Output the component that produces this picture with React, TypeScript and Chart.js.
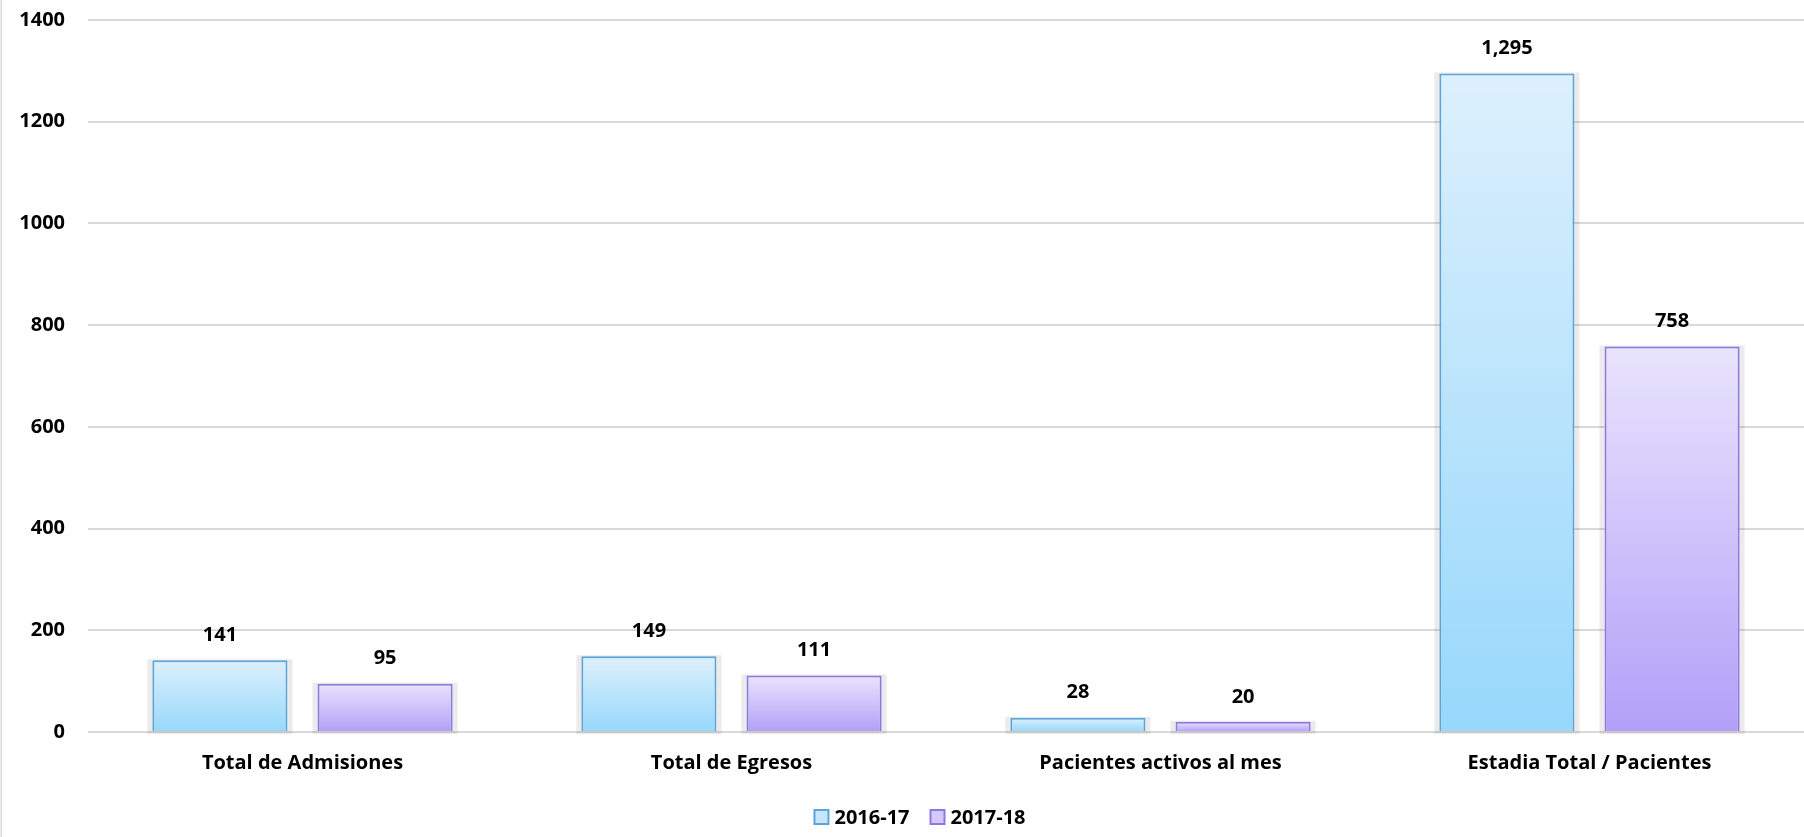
import React, { useEffect, useRef } from "react";
import { Chart, registerables } from "chart.js";

Chart.register(...registerables);

const categories = [
  "Total de Admisiones",
  "Total de Egresos",
  "Pacientes activos al mes",
  "Estadia Total / Pacientes",
];
const seriesNames = ["2016-17", "2017-18"];
const values2016 = [141, 149, 28, 1295];
const values2017 = [95, 111, 20, 758];
const yTicks = [0, 200, 400, 600, 800, 1000, 1200, 1400];

const FONT = "'Open Sans', Lato, sans-serif";
const FS = 20;

const palettes = [
  { top: "#ddf0fd", bottom: "#97d8fb", border: "#5aa6dc", legend: "#c6e7fb" },
  { top: "#e9e4fd", bottom: "#b1a0f8", border: "#8e79e2", legend: "#d3c9fb" },
];

function gradientFor(idx: number) {
  return (ctx: any) => {
    const chart = ctx.chart;
    const p = palettes[idx];
    if (!chart.chartArea || ctx.type !== "data") return p.legend;
    const y = chart.scales.y;
    const top = y.getPixelForValue(ctx.raw as number);
    const bottom = y.getPixelForValue(0);
    const g = chart.ctx.createLinearGradient(0, top, 0, Math.max(bottom, top + 1));
    g.addColorStop(0, p.top);
    g.addColorStop(1, p.bottom);
    return g;
  };
}

const shadowPlugin = {
  id: "barShadow",
  beforeDatasetsDraw(chart: any) {
    const ctx = chart.ctx;
    ctx.save();
    ctx.fillStyle = "rgba(0,0,0,0.08)";
    chart.data.datasets.forEach((_: any, di: number) => {
      const meta = chart.getDatasetMeta(di);
      meta.data.forEach((el: any) => {
        const w = el.width;
        const left = el.x - w / 2;
        ctx.fillRect(left - 5, el.y - 1, w + 10, el.base - el.y + 4);
      });
    });
    ctx.restore();
  },
};

const labelPlugin = {
  id: "valueLabels",
  afterDatasetsDraw(chart: any) {
    const ctx = chart.ctx;
    ctx.save();
    ctx.font = `bold ${FS}px ${FONT}`;
    ctx.fillStyle = "#000";
    ctx.textAlign = "center";
    ctx.textBaseline = "middle";
    chart.data.datasets.forEach((ds: any, di: number) => {
      const meta = chart.getDatasetMeta(di);
      meta.data.forEach((el: any, i: number) => {
        const v = ds.data[i] as number;
        ctx.fillText(v.toLocaleString("en-US"), el.x, el.y - 25);
      });
    });
    ctx.restore();
  },
};

const legendPlugin = {
  id: "customLegend",
  afterDraw(chart: any) {
    const ctx = chart.ctx;
    ctx.save();
    ctx.font = `bold ${FS}px ${FONT}`;
    ctx.textBaseline = "middle";
    ctx.textAlign = "left";
    const box = 14;
    const gapBoxText = 6;
    const gapItems = 21;
    const widths = seriesNames.map((n) => box + gapBoxText + ctx.measureText(n).width);
    const total = widths.reduce((a, b) => a + b, 0) + gapItems * (seriesNames.length - 1);
    let x = chart.width / 2 + 18 - total / 2;
    const cy = chart.height - 20;
    seriesNames.forEach((n, i) => {
      const p = palettes[i];
      ctx.fillStyle = p.legend;
      ctx.fillRect(x, cy - box / 2, box, box);
      ctx.strokeStyle = p.border;
      ctx.lineWidth = 2;
      ctx.strokeRect(x, cy - box / 2, box, box);
      ctx.fillStyle = "#000";
      ctx.fillText(n, x + box + gapBoxText, cy + 1);
      x += widths[i] + gapItems;
    });
    ctx.restore();
  },
};

const borderPlugin = {
  id: "leftBorder",
  beforeDraw(chart: any) {
    const ctx = chart.ctx;
    ctx.save();
    ctx.fillStyle = "#ffffff";
    ctx.fillRect(0, 0, chart.width, chart.height);
    ctx.fillStyle = "#d9d9d9";
    ctx.fillRect(0.5, 0, 1.5, chart.height);
    ctx.restore();
  },
};

export default function App() {
  const ref = useRef<HTMLCanvasElement | null>(null);

  useEffect(() => {
    document.body.style.margin = "0";
    const canvas = ref.current;
    if (!canvas) return;
    const chart = new Chart(canvas, {
      type: "bar",
      data: {
        labels: categories,
        datasets: [
          {
            label: seriesNames[0],
            data: values2016,
            backgroundColor: gradientFor(0) as any,
            borderColor: palettes[0].border,
            borderWidth: 2,
          },
          {
            label: seriesNames[1],
            data: values2017,
            backgroundColor: gradientFor(1) as any,
            borderColor: palettes[1].border,
            borderWidth: 2,
          },
        ],
      },
      options: {
        animation: false,
        responsive: true,
        maintainAspectRatio: false,
        layout: { padding: { top: 20, left: 0, right: 0, bottom: 40 } },
        datasets: {
          bar: { categoryPercentage: 0.77, barPercentage: 0.818 },
        },
        plugins: {
          tooltip: { enabled: false },
          legend: { display: false },
        },
        scales: {
          x: {
            grid: { display: false, drawTicks: false },
            border: { display: false },
            afterFit: (scale: any) => {
              scale.height = 65;
            },
            ticks: {
              font: { family: FONT, size: FS, weight: "bold" },
              color: "#000",
              padding: 19,
            },
          },
          y: {
            min: 0,
            max: 1400,
            afterBuildTicks: (scale: any) => {
              scale.ticks = yTicks.map((v) => ({ value: v }));
            },
            afterFit: (scale: any) => {
              scale.width = 88;
              scale.paddingTop = 12;
              scale.paddingBottom = 12;
            },
            grid: { color: "#d9d9d9", lineWidth: 2, drawTicks: false },
            border: { display: false },
            ticks: {
              font: { family: FONT, size: FS, weight: "bold" },
              color: "#000",
              padding: 23,
              callback: (v: any) => String(v),
            },
          },
        },
      },
      plugins: [borderPlugin, shadowPlugin, labelPlugin, legendPlugin],
    });
    return () => chart.destroy();
  }, []);

  return (
    <div style={{ width: 1804, height: 837, position: "relative" }}>
      <canvas ref={ref} />
    </div>
  );
}
